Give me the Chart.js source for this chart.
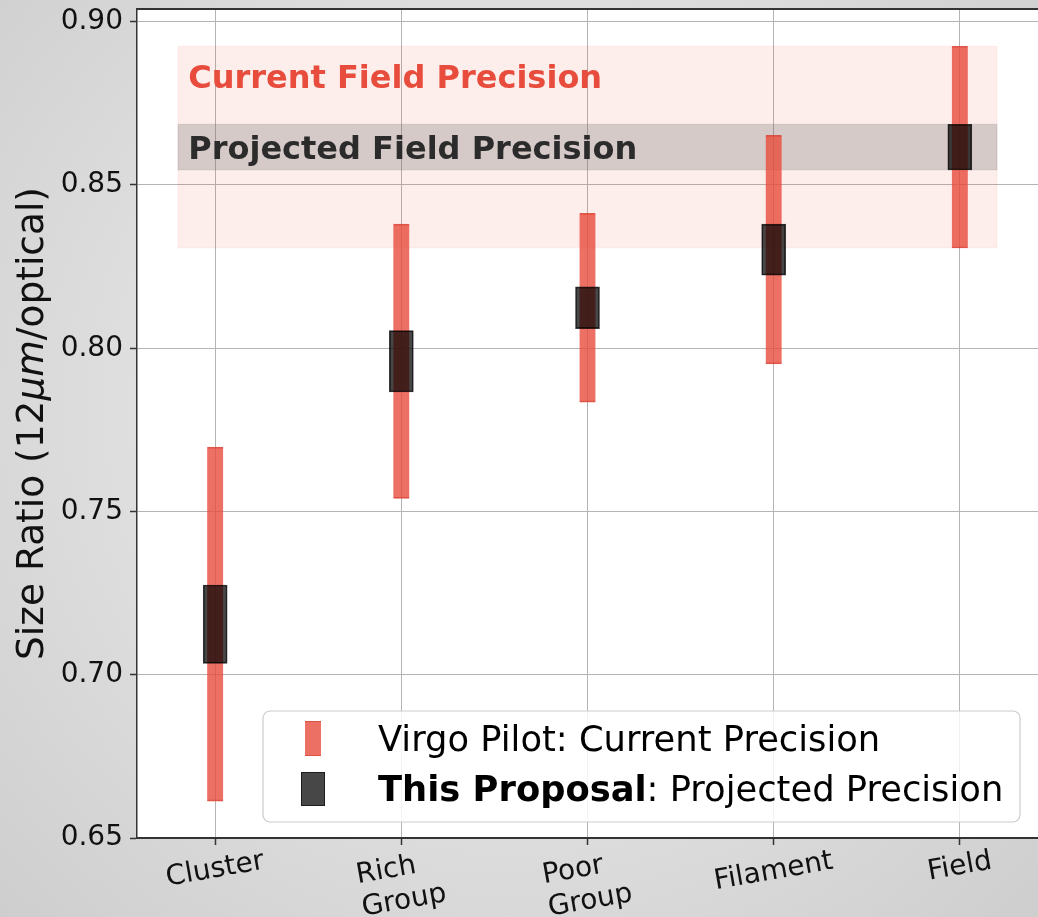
<!DOCTYPE html>
<html>
<head>
<meta charset="utf-8">
<script src="https://cdn.jsdelivr.net/npm/chart.js@4.4.0/dist/chart.umd.min.js"></script>
<style>
  html, body { margin: 0; padding: 0; }
  body {
    width: 1038px;
    height: 917px;
    overflow: hidden;
    background: radial-gradient(ellipse farthest-corner at 50% 45%, #ebebeb 0%, #dedede 55%, #cecece 100%);
  }
  canvas { display: block; }
</style>
</head>
<body>
<canvas id="sizeChart" width="1038" height="917"></canvas>
<script>
// environment labels (one entry per line of the tick label)
const environments = [['Cluster'], ['Rich', 'Group'], ['Poor', 'Group'], ['Filament'], ['Field']];
// mean 12um/optical size ratio per environment
const sizeRatio = [0.7155, 0.7960, 0.8124, 0.8302, 0.8616];
// half-widths of the error bars
const currentError = [0.0542, 0.0420, 0.0289, 0.0350, 0.0309];
const projectedError = [0.0120, 0.0094, 0.0064, 0.0078, 0.0070];
const yTicks = [0.65, 0.70, 0.75, 0.80, 0.85, 0.90];

const RED = 'rgba(231, 76, 60, 0.8)';
const DARK = 'rgba(0, 0, 0, 0.72)';
const FONT = '"DejaVu Sans", sans-serif';

function rangeData(errors) {
    return environments.map((_, i) => ({
        x: i,
        y: [sizeRatio[i] - errors[i], sizeRatio[i] + errors[i]]
    }));
}

// white plot background
const plotBackground = {
    id: 'plotBackground',
    beforeDraw(chart) {
        const { ctx, chartArea: a } = chart;
        ctx.save();
        ctx.fillStyle = '#ffffff';
        ctx.fillRect(a.left, a.top, a.right - a.left, a.bottom - a.top);
        ctx.restore();
    }
};

// field precision bands and their labels
const fieldBands = {
    id: 'fieldBands',
    beforeDatasetsDraw(chart) {
        const { ctx } = chart;
        const xs = chart.scales.x, ys = chart.scales.y;
        const f = environments.length - 1;
        const x0 = xs.getPixelForValue(-0.2);
        const x1 = xs.getPixelForValue(f + 0.2);

        const cTop = ys.getPixelForValue(sizeRatio[f] + currentError[f]);
        const cBot = ys.getPixelForValue(sizeRatio[f] - currentError[f]);
        const pTop = ys.getPixelForValue(sizeRatio[f] + projectedError[f]);
        const pBot = ys.getPixelForValue(sizeRatio[f] - projectedError[f]);

        ctx.save();
        ctx.fillStyle = 'rgba(231, 76, 60, 0.1)';
        ctx.fillRect(x0, cTop, x1 - x0, cBot - cTop);
        ctx.strokeStyle = 'rgba(231, 76, 60, 0.06)';
        ctx.lineWidth = 1;
        ctx.strokeRect(x0, cTop, x1 - x0, cBot - cTop);

        ctx.fillStyle = 'rgba(110, 110, 110, 0.28)';
        ctx.fillRect(x0, pTop, x1 - x0, pBot - pTop);
        ctx.strokeStyle = 'rgba(0, 0, 0, 0.08)';
        ctx.strokeRect(x0, pTop, x1 - x0, pBot - pTop);

        ctx.font = 'bold 32px ' + FONT;
        ctx.textAlign = 'left';
        ctx.textBaseline = 'alphabetic';
        const tx = xs.getPixelForValue(-0.145);
        ctx.fillStyle = '#e74c3c';
        ctx.fillText('Current Field Precision', tx, ys.getPixelForValue(0.8797));
        ctx.fillStyle = '#2b2b2b';
        ctx.fillText('Projected Field Precision', tx, (pTop + pBot) / 2 + 11.5);
        ctx.restore();
    }
};

// spine on top, rotated category labels, axis title and legend
const decorations = {
    id: 'decorations',
    afterDraw(chart) {
        const { ctx, chartArea: a } = chart;
        const xs = chart.scales.x;
        ctx.save();

        ctx.strokeStyle = '#333333';
        ctx.lineWidth = 2;
        ctx.beginPath();
        ctx.moveTo(a.left, a.top);
        ctx.lineTo(a.right, a.top);
        ctx.stroke();

        // category labels, rotated 10 degrees
        const ang = 10 * Math.PI / 180;
        const lh = 33;
        ctx.font = '28px ' + FONT;
        ctx.fillStyle = '#111111';
        ctx.textAlign = 'left';
        ctx.textBaseline = 'middle';
        environments.forEach((lines, i) => {
            const w = Math.max(...lines.map(l => ctx.measureText(l).width));
            const h = lines.length * lh;
            const bh = w * Math.sin(ang) + h * Math.cos(ang);
            ctx.save();
            ctx.translate(xs.getPixelForValue(i), a.bottom + 7 + bh / 2);
            ctx.rotate(-ang);
            lines.forEach((l, k) => ctx.fillText(l, -w / 2, -h / 2 + lh * (k + 0.5)));
            ctx.restore();
        });

        // y axis title with italic micron
        const parts = [['Size Ratio (12', ''], ['\u03bcm', 'italic '], ['/optical)', '']];
        ctx.save();
        ctx.translate(43, (a.top + a.bottom) / 2);
        ctx.rotate(-Math.PI / 2);
        ctx.textBaseline = 'alphabetic';
        let total = 0;
        parts.forEach(p => { ctx.font = p[1] + '37.5px ' + FONT; total += ctx.measureText(p[0]).width; });
        let px = -total / 2;
        parts.forEach(p => {
            ctx.font = p[1] + '37.5px ' + FONT;
            ctx.fillText(p[0], px, 0);
            px += ctx.measureText(p[0]).width;
        });
        ctx.restore();

        // legend
        const lx = 263, ly = 711, lw = 757, lhgt = 111;
        ctx.beginPath();
        ctx.roundRect(lx, ly, lw, lhgt, 7);
        ctx.fillStyle = 'rgba(255, 255, 255, 0.82)';
        ctx.fill();
        ctx.strokeStyle = '#cccccc';
        ctx.lineWidth = 1.2;
        ctx.stroke();

        ctx.fillStyle = RED;
        ctx.fillRect(305, 721, 16, 35);
        ctx.fillStyle = 'rgba(214, 62, 48, 0.6)';
        ctx.fillRect(305, 721, 16, 1);
        ctx.fillRect(305, 755, 16, 1);

        ctx.fillStyle = DARK;
        ctx.fillRect(301, 772, 24, 34);
        ctx.strokeStyle = 'rgba(0, 0, 0, 0.6)';
        ctx.lineWidth = 1;
        ctx.strokeRect(301.5, 772.5, 23, 33);

        ctx.fillStyle = '#000000';
        ctx.textAlign = 'left';
        ctx.textBaseline = 'alphabetic';
        ctx.font = '35.3px ' + FONT;
        ctx.fillText('Virgo Pilot: Current Precision', 378, 751);
        ctx.font = 'bold 35.3px ' + FONT;
        const bold = 'This Proposal';
        ctx.fillText(bold, 378, 801);
        const bw = ctx.measureText(bold).width;
        ctx.font = '35.3px ' + FONT;
        ctx.fillText(': Projected Precision', 378 + bw, 801);

        ctx.restore();
    }
};

const ctx = document.getElementById('sizeChart').getContext('2d');
const sizeChart = new Chart(ctx, {
    type: 'bar',
    data: {
        datasets: [
            {
                label: 'This Proposal: Projected Precision',
                data: rangeData(projectedError),
                backgroundColor: DARK,
                borderColor: 'rgba(0, 0, 0, 0.78)',
                borderWidth: 1,
                borderSkipped: false,
                barThickness: 24,
                grouped: false,
                order: 0
            },
            {
                label: 'Virgo Pilot: Current Precision',
                data: rangeData(currentError),
                backgroundColor: RED,
                borderColor: 'rgba(214, 62, 48, 0.85)',
                borderWidth: { top: 1, bottom: 1, left: 0, right: 0 },
                borderSkipped: false,
                barThickness: 16,
                grouped: false,
                order: 1
            }
        ]
    },
    options: {
        responsive: false,
        animation: false,
        devicePixelRatio: 1,
        layout: { padding: { top: 9, right: 0, bottom: 0, left: 0 } },
        plugins: {
            legend: { display: false },
            tooltip: { enabled: false }
        },
        scales: {
            x: {
                type: 'linear',
                min: -0.42,
                max: environments.length - 1 + 0.42,
                offset: false,
                afterBuildTicks: scale => { scale.ticks = environments.map((_, i) => ({ value: i })); },
                afterFit: scale => { scale.height = 79; scale.paddingLeft = 0; scale.paddingRight = 0; },
                ticks: { display: false },
                grid: { offset: false, color: '#b4b4b4', lineWidth: 1, tickLength: 7, tickColor: '#333333', tickWidth: 1.5 },
                border: { color: '#333333', width: 2 }
            },
            y: {
                min: 0.65,
                max: 0.9039,
                beginAtZero: false,
                afterBuildTicks: scale => { scale.ticks = yTicks.map(v => ({ value: v })); },
                afterFit: scale => { scale.width = 137; scale.paddingTop = 0; scale.paddingBottom = 0; },
                ticks: {
                    font: { family: 'DejaVu Sans', size: 28 },
                    color: '#111111',
                    padding: 7,
                    callback: v => v.toFixed(2)
                },
                grid: { color: '#b4b4b4', lineWidth: 1, tickLength: 7, tickColor: '#333333', tickWidth: 1.5 },
                border: { color: '#333333', width: 1.5 }
            }
        }
    },
    plugins: [plotBackground, fieldBands, decorations]
});
</script>
</body>
</html>
